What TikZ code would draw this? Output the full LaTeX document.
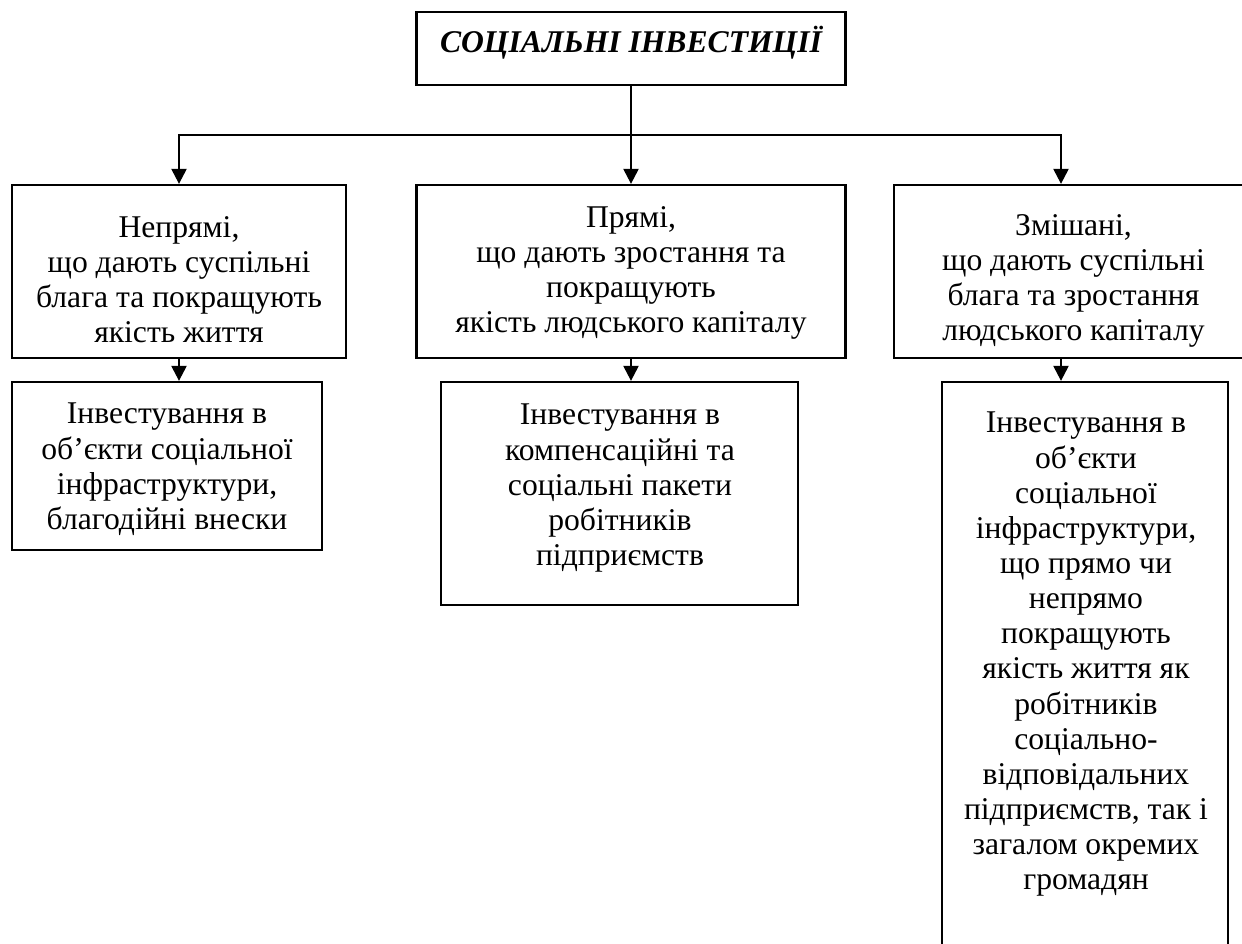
\documentclass[tikz,border=0pt]{standalone}
\usepackage{fontspec}
\setmainfont{Liberation Serif}
\usepackage{tikz}
\usetikzlibrary{arrows.meta,positioning}
\tikzset{>={Triangle[length=3mm,width=3mm]}}
\tikzstyle{frame}=[rectangle,draw=black,line width=1.3pt,inner sep=0pt]
\tikzstyle{boxtext}=[align=center,inner sep=0pt,anchor=north,font=\fontsize{18}{20}\selectfont]

\begin{document}
\begin{tikzpicture}[line width=1.3pt]
	\path[use as bounding box, clip] (0,0) rectangle (24.84,-18.88);
	
	% top box
	\node[frame, minimum width=8.58cm, minimum height=1.46cm] (social) at (12.62,-0.97) {};
	\node[inner sep=0pt, font=\fontsize{18}{20}\selectfont\bfseries\itshape] (socialtxt) at (12.62,-0.86) {СОЦІАЛЬНІ ІНВЕСТИЦІЇ};
	
	% kinds of investment
	\node[frame, minimum width=6.68cm, minimum height=3.46cm] (indirect) at (3.58,-5.43) {};
	\node[frame, minimum width=8.58cm, minimum height=3.46cm] (direct) at (12.62,-5.43) {};
	\node[frame, minimum width=7.18cm, minimum height=3.46cm] (mixed) at (21.47,-5.43) {};
	
	\node[boxtext] (indirecttxt) at (3.58,-4.30) {Непрямі,\\ що дають суспільні\\ блага та покращують\\ якість життя};
	\node[boxtext] (directtxt) at (12.62,-4.10) {Прямі,\\ що дають зростання та\\ покращують\\ якість людського капіталу};
	\node[boxtext] (mixedtxt) at (21.47,-4.26) {Змішані,\\ що дають суспільні\\ блага та зростання\\ людського капіталу};
	
	% objects of investment
	\node[frame, minimum width=6.2cm, minimum height=3.36cm] (indirectobj) at (3.34,-9.32) {};
	\node[frame, minimum width=7.14cm, minimum height=4.46cm] (directobj) at (12.39,-9.87) {};
	\node[frame, minimum width=5.72cm, minimum height=11.96cm] (mixedobj) at (21.70,-13.62) {};
	
	\node[boxtext] (indirectobjtxt) at (3.34,-8.04) {Інвестування в\\ об’єкти соціальної\\ інфраструктури,\\ благодійні внески};
	\node[boxtext] (directobjtxt) at (12.40,-8.06) {Інвестування в\\ компенсаційні та\\ соціальні пакети\\ робітників\\ підприємств};
	\node[boxtext] (mixedobjtxt) at (21.72,-8.22) {Інвестування в\\ об’єкти\\ соціальної\\ інфраструктури,\\ що прямо чи\\ непрямо\\ покращують\\ якість життя як\\ робітників\\ соціально-\\ відповідальних\\ підприємств, так і\\ загалом окремих\\ громадян};
	
	% connectors
	\coordinate (hub) at (12.62,-2.70);
	\coordinate (rightbus) at (21.22,-2.70);
	\draw[-] (social) -- (hub);
	\draw[->] (hub) -| (indirect);
	\draw[->] (hub) -- (direct);
	\draw[->] (hub) -- (rightbus) -- (rightbus |- mixed.north);
	
	\draw[->] (indirect) -- (indirect |- indirectobj.north);
	\draw[->] (direct) -- (direct |- directobj.north);
	\draw[->] (rightbus |- mixed.south) -- (rightbus |- mixedobj.north);
\end{tikzpicture}
\end{document}
